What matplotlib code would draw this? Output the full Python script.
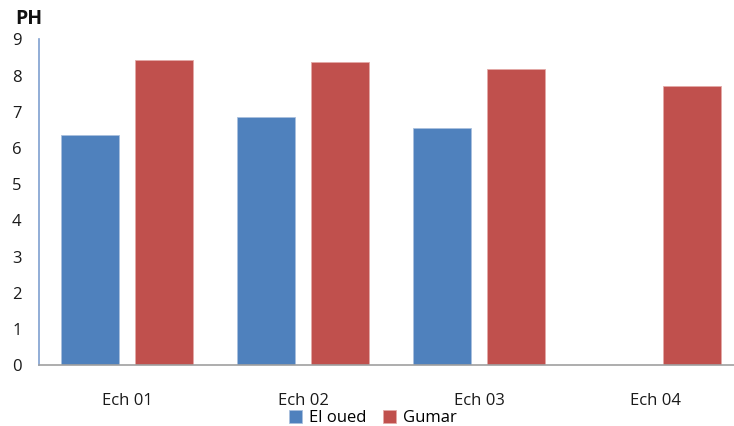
import matplotlib
matplotlib.use("Agg")
import matplotlib.pyplot as plt
import numpy as np

categories = ["Ech 01", "Ech 02", "Ech 03", "Ech 04"]
el_oued = [6.35, 6.86, 6.54, np.nan]
gumar = [8.42, 8.37, 8.17, 7.71]
y_ticks = [0, 1, 2, 3, 4, 5, 6, 7, 8, 9]

plt.rcParams["font.family"] = ["Open Sans", "DejaVu Sans"]

W, H = 734, 426
fig = plt.figure(figsize=(W / 100, H / 100), dpi=100)
ax = fig.add_axes([39 / W, (H - 365.3) / H, (W - 39) / W, (365.3 - 39.3) / H])

x = np.arange(len(categories))
bw = 0.33
off = 0.21
ax.bar(x - off, el_oued, width=bw, color="#4F81BD", edgecolor="#A9C0DE",
       linewidth=0.6, label="El oued", zorder=2)
ax.bar(x + off, gumar, width=bw, color="#C0504D", edgecolor="#E3A9A7",
       linewidth=0.6, label="Gumar", zorder=2)

ax.set_xlim(-0.5, -0.5 + (W - 39) / 176)
ax.set_ylim(0, 9)
ax.set_yticks(y_ticks)
ax.set_xticks(x)
ax.set_xticklabels(categories)
ax.tick_params(axis="both", length=0, labelsize=12, colors="#1a1a1a")
ax.tick_params(axis="y", pad=16)
ax.tick_params(axis="x", pad=20)
for lab in ax.get_yticklabels():
    lab.set_horizontalalignment("center")

for s in ["top", "right"]:
    ax.spines[s].set_visible(False)
ax.spines["left"].set_color("#7F9FCF")
ax.spines["left"].set_linewidth(1.2)
ax.spines["bottom"].set_color("#A0A0A0")
ax.spines["bottom"].set_linewidth(1.2)

fig.text(15 / W, 1 - 19 / H, "PH", fontsize=14, fontweight="bold",
         va="center", ha="left", color="#111111")

leg = fig.legend(loc="center", bbox_to_anchor=(373 / W, 1 - 418 / H), ncol=2,
                 frameon=False, fontsize=12, handlelength=0.8, handleheight=0.8,
                 handletextpad=0.4, columnspacing=1.0, borderpad=0)

fig.savefig("out.png", dpi=100)
